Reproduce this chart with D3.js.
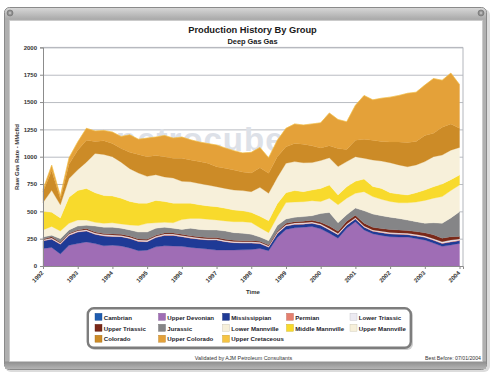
<!DOCTYPE html>
<html><head><meta charset="utf-8">
<script src="https://cdn.jsdelivr.net/npm/d3@7"></script>
<style>html,body{margin:0;padding:0;background:#fff;}svg{display:block;font-family:"Liberation Sans",Arial,sans-serif;}</style>
</head><body>
<svg id="chart" width="492" height="378"></svg>
<script>
// ---------- DATA ----------
const dates = [1992.00,1992.25,1992.50,1992.75,1993.00,1993.25,1993.50,1993.75,1994.00,1994.25,1994.50,1994.75,
  1995.00,1995.25,1995.50,1995.75,1996.00,1996.25,1996.50,1996.75,1997.00,1997.25,1997.50,1997.75,
  1998.00,1998.25,1998.50,1998.75,1999.00,1999.25,1999.50,1999.75,2000.00,2000.25,2000.50,2000.75,
  2001.00,2001.25,2001.50,2001.75,2002.00,2002.25,2002.50,2002.75,2003.00,2003.25,2003.50,2003.75,2004.00];
const cambrian = [0,0,0,0,0,0,0,0,0,0,0,0,0,0,0,0,0,0,0,0,0,0,0,0,0,0,0,0,0,0,0,0,0,0,0,0,0,0,0,0,0,0,0,0,0,0,0,0,0];
const upperDevonian = [160,170,110,190,205,220,205,185,190,183,165,140,145,175,185,183,180,170,163,155,146,146,146,148,150,160,140,260,335,350,355,362,340,300,255,345,405,330,295,280,268,265,265,252,238,210,180,192,207];
const mississippian = [70,75,90,90,105,100,85,90,80,85,87,85,77,85,95,97,88,85,82,83,92,76,67,62,60,45,32,35,30,30,28,28,32,30,30,27,25,25,23,25,25,25,22,23,24,25,25,28,25];
const permian = [3,3,3,3,3,3,3,3,3,3,3,3,3,3,3,3,3,3,3,3,3,3,3,3,3,3,3,4,4,4,4,4,4,4,4,4,4,4,4,4,4,4,4,4,4,5,5,5,5];
const lowerTriassic = [7,9,7,9,9,9,9,10,10,9,9,10,10,9,9,9,9,9,9,9,9,9,9,9,9,9,9,9,9,9,9,9,9,9,9,9,8,8,8,9,9,9,9,9,9,10,12,12,11];
const upperTriassic = [5,10,8,8,8,10,10,10,10,10,10,10,10,10,10,10,10,10,10,10,10,10,10,10,10,10,8,10,12,12,14,15,15,22,20,25,23,25,25,25,29,27,25,27,30,35,33,31,22];
const jurassic = [20,15,32,30,35,30,53,57,62,55,56,62,65,63,53,43,45,68,68,70,69,76,70,68,58,38,40,52,40,40,42,42,80,125,77,60,65,113,120,117,111,105,95,90,85,110,135,172,227];
const lowerMannville = [65,80,70,60,55,48,35,35,40,40,45,60,80,50,45,50,90,90,100,98,92,92,100,105,108,85,73,80,150,140,136,137,110,130,165,150,135,175,160,150,144,143,158,180,210,225,245,250,244];
const middleMannville = [170,130,120,240,270,290,270,255,245,235,215,205,185,205,190,180,150,140,125,122,122,116,107,100,92,105,110,120,90,105,92,98,120,120,90,105,110,115,93,100,80,80,72,85,95,105,115,100,92];
const upperMannville = [80,200,120,170,190,240,360,375,360,330,300,275,245,235,225,230,200,195,195,190,183,182,183,185,190,265,250,240,270,265,265,251,255,250,260,230,225,190,242,250,275,267,258,255,260,275,265,270,252];
const colorado = [100,180,55,130,180,200,110,125,120,125,150,170,180,175,185,180,210,200,200,200,182,185,183,170,170,180,183,190,150,165,170,154,115,110,165,110,150,175,180,180,190,210,222,215,240,215,255,240,175];
const upperColorado = [20,50,25,60,75,110,95,95,105,110,160,140,170,170,195,185,195,185,180,180,199,185,177,175,190,185,142,150,170,180,175,200,230,300,265,255,320,400,370,395,410,425,450,450,460,500,430,465,400];
const upperCretaceous = [0,0,0,0,0,0,0,0,0,0,0,0,0,0,0,0,0,0,0,0,0,0,0,0,0,0,0,0,0,0,0,0,0,0,0,0,0,0,0,0,0,0,0,0,0,0,0,0,0];

const seriesNames = ["Cambrian","Upper Devonian","Mississippian","Permian","Lower Triassic","Upper Triassic","Jurassic",
  "Lower Mannville","Middle Mannville","Upper Mannville","Colorado","Upper Colorado","Upper Cretaceous"];
const seriesValues = [cambrian,upperDevonian,mississippian,permian,lowerTriassic,upperTriassic,jurassic,
  lowerMannville,middleMannville,upperMannville,colorado,upperColorado,upperCretaceous];
const yTicks = [0,250,500,750,1000,1250,1500,1750,2000];
const xTicks = [1992,1993,1994,1995,1996,1997,1998,1999,2000,2001,2002,2003,2004];
const titleText = "Production History By Group";
const subtitleText = "Deep Gas Gas";
const yTitle = "Raw Gas Rate - MMcf/d";
const xTitle = "Time";
const footerLeft = "Validated by AJM Petroleum Consultants";
const footerRight = "Best Before: 07/01/2004";

// ---------- STYLE ----------
const colors = {
  "Cambrian":"#1e5cb0","Upper Devonian":"#9f6db5","Mississippian":"#1f3a96","Permian":"#e57f6e",
  "Lower Triassic":"#eceaf2","Upper Triassic":"#7a2818","Jurassic":"#858587","Lower Mannville":"#f7f0da",
  "Middle Mannville":"#f8da2c","Upper Mannville":"#f7f0da","Colorado":"#cc8b27","Upper Colorado":"#e4a139",
  "Upper Cretaceous":"#f6c443"
};

const svg = d3.select("#chart");
const defs = svg.append("defs");
const g1 = defs.append("linearGradient").attr("id","barGrad").attr("x1",0).attr("y1",0).attr("x2",0).attr("y2",1);
g1.append("stop").attr("offset","0%").attr("stop-color","#d6d6d6");
g1.append("stop").attr("offset","100%").attr("stop-color","#a9a9a9");
const g2 = defs.append("linearGradient").attr("id","botGrad").attr("x1",0).attr("y1",0).attr("x2",0).attr("y2",1);
g2.append("stop").attr("offset","0%").attr("stop-color","#8e8e8e");
g2.append("stop").attr("offset","100%").attr("stop-color","#b4b4b4");

// frame shadow
svg.append("rect").attr("x",5).attr("y",9).attr("width",485).attr("height",363).attr("rx",6).attr("fill","#dcdcdc");
// outer frame
svg.append("rect").attr("x",4.5).attr("y",7.5).attr("width",482).attr("height",362).attr("rx",5)
  .attr("fill","#b0b0b0").attr("stroke","#8a8a8a");
// title bar
svg.append("path").attr("d","M5,19.5 L5,12.5 Q5,8 9.5,8 L481.5,8 Q486,8 486,12.5 L486,19.5 Z").attr("fill","url(#barGrad)");
// bottom bar
svg.append("rect").attr("x",5).attr("y",361.5).attr("width",481).attr("height",7.5).attr("fill","url(#botGrad)");
// inner panel
svg.append("rect").attr("x",9.5).attr("y",20.5).attr("width",473).attr("height",341).attr("fill","#ffffff").attr("stroke","#c8c8c8").attr("stroke-width",0.8);
// window icons
[[10,13],[481,13]].forEach(([cx,cy])=>{
  svg.append("circle").attr("cx",cx).attr("cy",cy).attr("r",3).attr("fill","#8c8c8c").attr("stroke","#6e6e6e").attr("stroke-width",0.6);
  svg.append("circle").attr("cx",cx).attr("cy",cy).attr("r",1.4).attr("fill","#b9b9b9");
});

// ---------- CHART ----------
const pL = 43, pR = 463, pT = 47.4, pB = 266;
const x = d3.scaleLinear().domain([1992, 2004.1]).range([pL, pR]);
const y = d3.scaleLinear().domain([0, 2000]).range([pB, pT]);

svg.append("text").attr("x",252.5).attr("y",33).attr("text-anchor","middle")
  .attr("font-size",9.3).attr("font-weight","bold").attr("fill","#1a1a1a").text(titleText);
svg.append("text").attr("x",252.5).attr("y",43.6).attr("text-anchor","middle")
  .attr("font-size",7.4).attr("font-weight","bold").attr("fill","#1a1a1a").text(subtitleText);

// gridlines
svg.append("g").attr("transform",`translate(${pL},0)`)
  .call(d3.axisLeft(y).tickValues(yTicks).tickSize(-(pR-pL)).tickFormat(""))
  .call(g=>g.select(".domain").remove())
  .call(g=>g.selectAll("line").attr("stroke","#b9bcc2").attr("stroke-width",1));

// watermark
svg.append("text").attr("x",116).attr("y",151).attr("font-size",33).attr("font-weight","bold")
  .attr("fill","#dde1e8").attr("letter-spacing",1).text("petrocube");

// stacked areas
const rows = dates.map((d,i)=>{const r={date:d}; seriesNames.forEach((n,k)=>{r[n]=seriesValues[k][i];}); return r;});
const stacked = d3.stack().keys(seriesNames)(rows);
const area = d3.area().x(d=>x(d.data.date)).y0(d=>y(d[0])).y1(d=>y(d[1]));
svg.append("g").selectAll("path").data(stacked).join("path")
  .attr("d",area).attr("fill",d=>colors[d.key]).attr("stroke",d=>colors[d.key]).attr("stroke-width",0.3);

// plot border (top/right)
svg.append("path").attr("d",`M${pL},${pT}H${pR}V${pB}`).attr("fill","none").attr("stroke","#b3b6bc");

// y axis
svg.append("g").attr("transform",`translate(${pL},0)`)
  .call(d3.axisLeft(y).tickValues(yTicks).tickSize(3).tickPadding(3).tickFormat(d3.format("d")))
  .call(g=>g.select(".domain").attr("stroke","#8c8c8c"))
  .call(g=>g.selectAll("line").attr("stroke","#8c8c8c"))
  .call(g=>g.selectAll("text").attr("font-size",6).attr("font-weight","bold").attr("fill","#333").attr("font-family","Liberation Sans, Arial, sans-serif"));

// x axis
svg.append("g").attr("transform",`translate(0,${pB})`)
  .call(d3.axisBottom(x).tickValues(xTicks).tickSize(3).tickFormat(d3.format("d")))
  .call(g=>g.select(".domain").attr("stroke","#8c8c8c"))
  .call(g=>g.selectAll("line").attr("stroke","#8c8c8c"))
  .call(g=>g.selectAll("text").attr("font-size",6).attr("font-weight","bold").attr("fill","#333")
    .attr("font-family","Liberation Sans, Arial, sans-serif")
    .attr("text-anchor","end").attr("x",0).attr("y",0).attr("dy","0.35em")
    .attr("transform","translate(-1,6) rotate(-45)"));

svg.append("text").attr("transform","translate(18.5,157) rotate(-90)").attr("text-anchor","middle")
  .attr("font-size",6).attr("font-weight","bold").attr("fill","#333").text(yTitle);
svg.append("text").attr("x",253).attr("y",293.5).attr("text-anchor","middle")
  .attr("font-size",6).attr("font-weight","bold").attr("fill","#333").text(xTitle);

// ---------- LEGEND ----------
svg.append("rect").attr("x",89).attr("y",309.5).attr("width",324).attr("height",40.5).attr("rx",6).attr("fill","#cfcfcf");
svg.append("rect").attr("x",87.8).attr("y",308.3).attr("width",323).attr("height",39.5).attr("rx",6)
  .attr("fill","#ffffff").attr("stroke","#7d7d7d").attr("stroke-width",2.4);
const colX = [95,158.5,222.5,286.5,350];
const rowY = [313.3,324.3,335.2];
const leg = svg.append("g");
seriesNames.forEach((n,i)=>{
  const cx = colX[i%5], cy = rowY[Math.floor(i/5)];
  leg.append("rect").attr("x",cx).attr("y",cy).attr("width",7).attr("height",7)
    .attr("fill",colors[n]).attr("stroke",d3.color(colors[n]).darker(0.6)).attr("stroke-width",0.4);
  leg.append("text").attr("x",cx+8.8).attr("y",cy+6.2).attr("font-size",6.1).attr("font-weight","bold")
    .attr("fill","#1c1c2a").text(n);
});

// footer
svg.append("text").attr("x",243.5).attr("y",359.5).attr("text-anchor","middle").attr("font-size",5.4)
  .attr("fill","#333").text(footerLeft);
svg.append("text").attr("x",481).attr("y",359.5).attr("text-anchor","end").attr("font-size",5.2)
  .attr("fill","#333").text(footerRight);
</script>
</body></html>
